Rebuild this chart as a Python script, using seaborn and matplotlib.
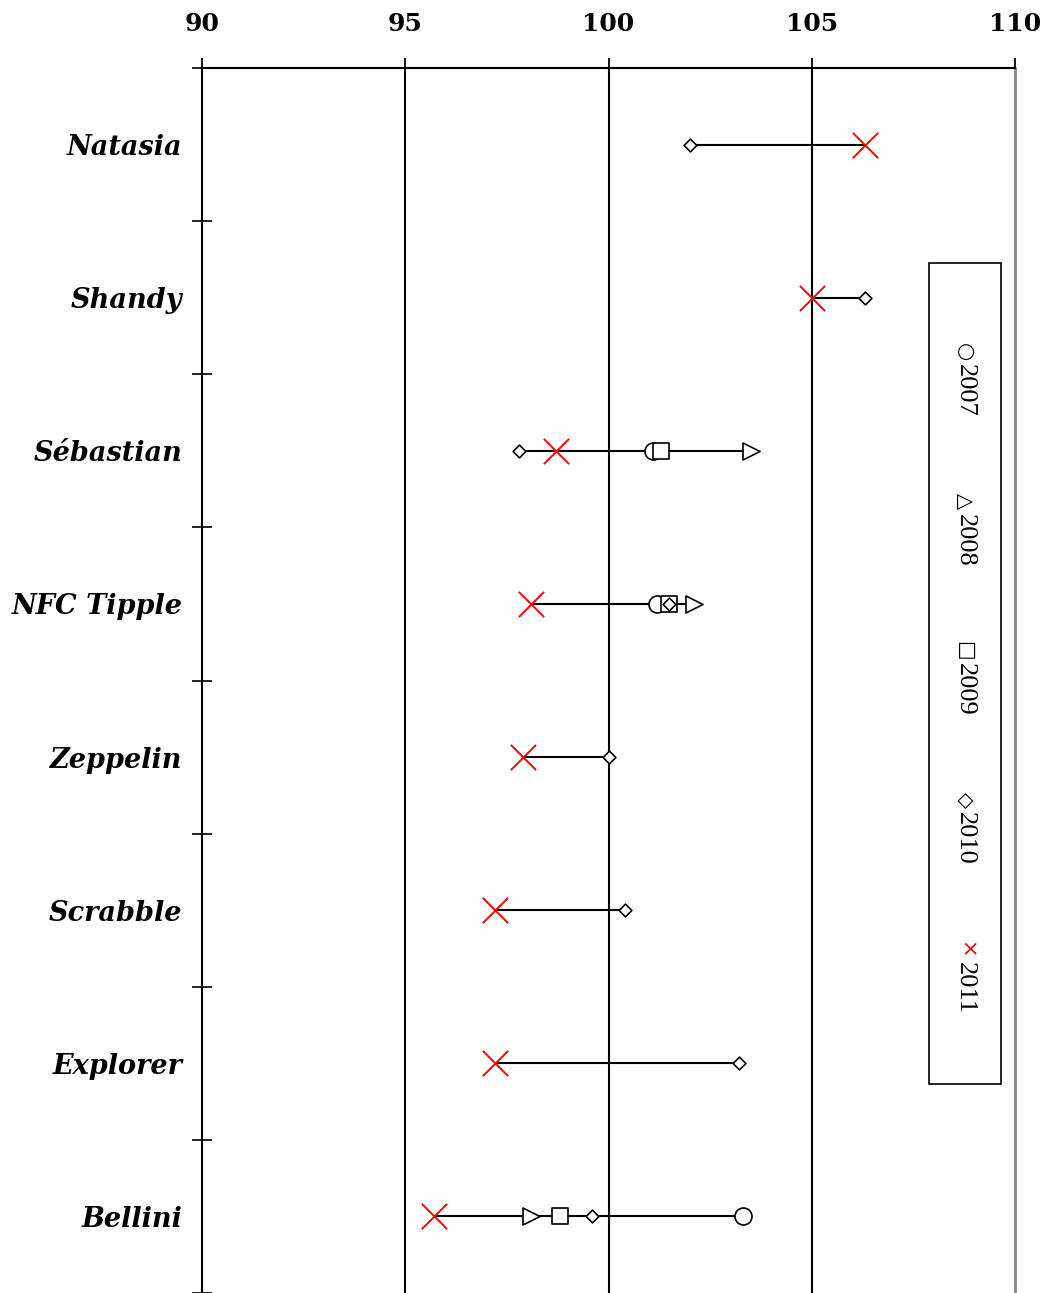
import numpy as np
import pandas as pd
import seaborn as sns
import matplotlib.pyplot as plt
from matplotlib.patches import Rectangle

# values
horses = ["Natasia", "Shandy", "Sébastian", "NFC Tipple", "Zeppelin",
          "Scrabble", "Explorer", "Bellini"]
years = ["2007", "2008", "2009", "2010", "2011"]

v2007 = [np.nan, np.nan, 101.1, 101.2, np.nan, np.nan, np.nan, 103.3]
v2008 = [np.nan, np.nan, 103.5, 102.1, np.nan, np.nan, np.nan, 98.1]
v2009 = [np.nan, np.nan, 101.3, 101.5, np.nan, np.nan, np.nan, 98.8]
v2010 = [102.0, 106.3, 97.8, 101.5, 100.0, 100.4, 103.2, 99.6]
v2011 = [106.3, 105.0, 98.7, 98.1, 97.9, 97.2, 97.2, 95.7]

x_ticks = [90, 95, 100, 105, 110]

rows = []
for yr, vals in zip(years, [v2007, v2008, v2009, v2010, v2011]):
    for i, (h, v) in enumerate(zip(horses, vals)):
        if not np.isnan(v):
            rows.append({"horse": h, "pos": i, "year": yr, "value": v})
df = pd.DataFrame(rows)

sns.set_style("white")
plt.rcParams["font.family"] = ["DejaVu Serif", "DejaVu Sans"]
plt.rcParams["text.color"] = "black"
plt.rcParams["xtick.color"] = "black"
plt.rcParams["ytick.color"] = "black"

fig = plt.figure(figsize=(10.45, 12.93), dpi=100)
ax = fig.add_axes([0.1933, 0.0, 0.9713 - 0.1933, 0.9474])

# range lines from min to max per horse
rng = df.groupby("pos")["value"].agg(["min", "max"])
ax.hlines(rng.index, rng["min"], rng["max"], color="black", lw=1.5, zorder=2)

markers = {"2007": "o", "2008": ">", "2009": "s", "2010": "D", "2011": "x"}
sizes = {"2007": 150, "2008": 150, "2009": 140, "2010": 42, "2011": 330}
for yr in years:
    sub = df[df["year"] == yr]
    if yr == "2011":
        sns.scatterplot(data=sub, x="value", y="pos", marker="x", s=sizes[yr],
                        color="red", linewidth=1.4, ax=ax, zorder=4, legend=False)
    else:
        sns.scatterplot(data=sub, x="value", y="pos", marker=markers[yr], s=sizes[yr],
                        facecolor="white", edgecolor="black", linewidth=1.2,
                        ax=ax, zorder=3, legend=False)

ax.set_xlim(90, 110)
ax.set_ylim(len(horses) - 0.5, -0.5)
ax.set_xlabel("")
ax.set_ylabel("")

# grid lines
for xv in x_ticks[1:-1]:
    ax.axvline(xv, color="black", lw=1.5, zorder=1)

ax.xaxis.tick_top()
ax.set_xticks(x_ticks)
ax.set_xticklabels([str(t) for t in x_ticks], fontweight="bold", fontsize=18,
                   color="black")
ax.tick_params(axis="x", top=True, direction="out", length=7, width=1.3, pad=16)

ax.set_yticks(range(len(horses)))
ax.set_yticklabels(horses, fontweight="bold", fontstyle="italic", fontsize=19.5,
                   color="black")
ax.tick_params(axis="y", which="major", left=True, length=0, pad=14)
ax.set_yticks(np.arange(-0.5, len(horses) - 0.4, 1.0), minor=True)
ax.tick_params(axis="y", which="minor", left=True, direction="inout",
               length=14, width=1.2)

for s in ["top", "left"]:
    ax.spines[s].set_color("black")
    ax.spines[s].set_linewidth(1.5)
ax.spines["right"].set_color("#888888")
ax.spines["right"].set_linewidth(2)
ax.spines["bottom"].set_visible(False)

# rotated legend box
W, H = 1045, 1293
fig.add_artist(Rectangle((929 / W, 1 - 1084 / H), 72 / W, 821 / H,
                         transform=fig.transFigure, fill=False,
                         edgecolor="black", lw=1.2))
symbols = ["○", "△", "□", "◇", "×"]
sym_colors = ["black", "black", "black", "black", "red"]
for i, (sym, yr, c) in enumerate(zip(symbols, years, sym_colors)):
    yc = 352 + i * 149.5
    fig.text(965 / W, 1 - yc / H, sym, rotation=270, ha="center", va="center",
             fontsize=15, color=c, family=["DejaVu Sans"])
    fig.text(965 / W, 1 - (yc + 12) / H, yr, rotation=270, ha="center", va="top",
             fontsize=19, color="black", family=["Liberation Serif", "DejaVu Serif"])

fig.savefig("out.png", dpi=100)
